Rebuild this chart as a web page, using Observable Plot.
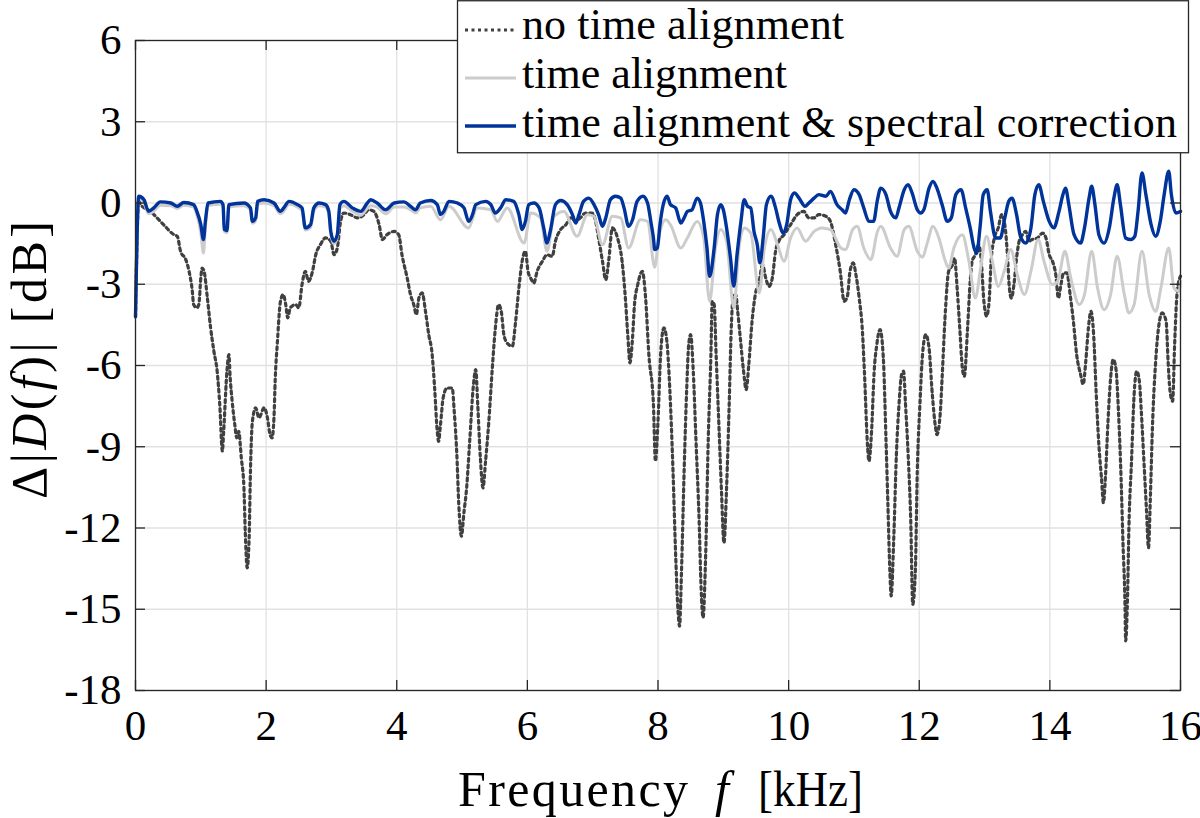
<!DOCTYPE html>
<html>
<head>
<meta charset="utf-8">
<script src="https://cdn.jsdelivr.net/npm/d3@7"></script>
<script src="https://cdn.jsdelivr.net/npm/@observablehq/plot@0.6"></script>
<style>
  html, body { margin: 0; padding: 0; background: #fff; }
  #chart { position: relative; width: 1200px; height: 818px; }
</style>
</head>
<body>
<div id="chart"></div>
<script>
// ---- data: [frequency in kHz, level difference in dB] ----
const noTimeAlignment = [
  [0,-4.2],[0.05,0.1],[0.08,-0.06],[0.23,-0.31],[0.33,-0.55],[0.43,-0.8],[0.59,-1.17],[0.64,-1.23],[0.69,-1.78],
  [0.77,-2.09],[0.82,-2.52],[0.87,-3.26],[0.89,-3.75],[0.94,-3.87],[0.97,-3.75],[1.0,-2.77],[1.02,-2.4],[1.05,-2.52],
  [1.1,-3.5],[1.15,-4.61],[1.2,-5.47],[1.25,-6.21],[1.29,-7.44],[1.33,-9.16],[1.35,-8.43],[1.4,-6.21],[1.43,-5.6],
  [1.45,-6.46],[1.48,-7.32],[1.52,-8.18],[1.55,-8.67],[1.58,-8.43],[1.62,-9.41],[1.66,-10.5],[1.68,-12.1],[1.71,-13.47],
  [1.74,-12.36],[1.76,-9.9],[1.79,-8.06],[1.84,-7.56],[1.89,-7.93],[1.97,-7.56],[2.02,-7.93],[2.06,-8.55],[2.09,-8.67],
  [2.12,-7.93],[2.14,-6.46],[2.17,-5.23],[2.22,-3.63],[2.26,-3.38],[2.3,-3.75],[2.33,-4.24],[2.37,-3.87],[2.45,-3.75],
  [2.5,-3.87],[2.55,-3.01],[2.6,-2.52],[2.65,-2.89],[2.71,-2.52],[2.76,-1.91],[2.83,-1.54],[2.91,-1.29],[2.99,-1.41],
  [3.04,-1.91],[3.09,-1.66],[3.14,-0.68],[3.19,-0.37],[3.29,-0.43],[3.4,-0.55],[3.5,-0.43],[3.57,-0.25],[3.65,-0.31],
  [3.73,-0.8],[3.78,-1.35],[3.85,-1.17],[3.96,-1.05],[4.03,-1.17],[4.08,-1.91],[4.16,-2.77],[4.21,-3.38],[4.26,-3.75],
  [4.3,-4.12],[4.34,-3.5],[4.39,-3.32],[4.44,-4.0],[4.49,-4.86],[4.54,-5.54],[4.58,-6.83],[4.62,-8.43],[4.64,-8.8],
  [4.67,-8.18],[4.71,-7.2],[4.77,-6.83],[4.85,-6.83],[4.88,-7.69],[4.92,-9.29],[4.95,-11.13],[4.99,-12.3],[5.03,-11.4],
  [5.07,-10.52],[5.12,-8.67],[5.17,-6.83],[5.21,-6.15],[5.24,-7.44],[5.28,-9.41],[5.32,-10.52],[5.36,-9.53],[5.41,-8.06],
  [5.46,-6.21],[5.51,-4.61],[5.56,-3.75],[5.6,-4.0],[5.64,-4.86],[5.69,-5.17],[5.77,-5.29],[5.82,-4.37],[5.87,-3.14],
  [5.92,-2.15],[5.97,-1.78],[6.01,-2.52],[6.05,-2.77],[6.1,-2.95],[6.15,-2.52],[6.23,-2.15],[6.3,-1.91],[6.38,-1.97],
  [6.43,-1.41],[6.51,-0.98],[6.59,-0.8],[6.66,-0.55],[6.74,-0.68],[6.81,-0.55],[6.89,-0.37],[6.99,-0.37],[7.04,-0.62],
  [7.09,-1.29],[7.15,-2.15],[7.2,-2.83],[7.25,-2.03],[7.3,-0.92],[7.38,-1.29],[7.45,-2.15],[7.5,-3.5],[7.54,-4.98],
  [7.57,-5.9],[7.61,-4.98],[7.64,-3.75],[7.69,-3.01],[7.76,-2.52],[7.81,-3.5],[7.86,-5.6],[7.93,-7.44],[7.96,-9.53],
  [8.0,-8.06],[8.04,-5.6],[8.09,-4.61],[8.13,-4.98],[8.18,-6.83],[8.23,-9.9],[8.27,-12.98],[8.31,-15.19],[8.33,-15.62],
  [8.36,-13.59],[8.4,-9.9],[8.44,-6.83],[8.47,-5.23],[8.5,-4.86],[8.54,-6.21],[8.58,-8.67],[8.63,-11.75],[8.66,-14.21],
  [8.69,-15.31],[8.73,-12.98],[8.77,-8.67],[8.81,-5.6],[8.83,-3.63],[8.86,-3.75],[8.89,-5.6],[8.93,-8.06],[8.97,-10.52],
  [9.01,-12.55],[9.05,-10.52],[9.09,-7.44],[9.12,-4.74],[9.15,-3.5],[9.19,-3.38],[9.22,-4.0],[9.26,-4.98],[9.31,-6.21],
  [9.35,-6.89],[9.39,-5.97],[9.44,-4.37],[9.49,-3.38],[9.55,-2.89],[9.6,-2.28],[9.65,-2.77],[9.7,-3.08],[9.75,-2.77],
  [9.8,-1.78],[9.85,-1.41],[9.93,-1.17],[10.03,-0.8],[10.13,-0.43],[10.23,-0.31],[10.31,-0.55],[10.39,-0.55],[10.46,-0.43],
  [10.57,-0.49],[10.64,-0.68],[10.72,-1.54],[10.79,-2.52],[10.85,-3.63],[10.9,-3.44],[10.94,-2.52],[10.99,-2.21],[11.03,-2.64],
  [11.08,-3.5],[11.13,-4.74],[11.16,-6.21],[11.21,-9.04],[11.23,-9.53],[11.27,-8.43],[11.31,-6.21],[11.35,-5.23],[11.4,-4.67],
  [11.45,-5.72],[11.49,-8.67],[11.52,-11.13],[11.55,-13.59],[11.57,-14.51],[11.61,-12.36],[11.65,-9.29],[11.69,-7.44],[11.73,-6.33],
  [11.76,-6.21],[11.79,-7.44],[11.83,-9.29],[11.87,-11.75],[11.9,-14.82],[11.94,-13.59],[11.97,-9.9],[12.01,-7.44],[12.05,-5.6],
  [12.1,-4.86],[12.15,-5.35],[12.2,-7.07],[12.25,-8.3],[12.27,-8.55],[12.32,-7.81],[12.35,-6.46],[12.4,-4.0],[12.45,-2.52],
  [12.51,-2.28],[12.54,-2.03],[12.58,-3.14],[12.62,-4.61],[12.66,-6.09],[12.69,-6.4],[12.74,-4.61],[12.78,-2.89],[12.81,-2.15],
  [12.86,-1.91],[12.91,-1.54],[12.95,-2.15],[12.99,-3.63],[13.03,-4.18],[13.07,-3.63],[13.1,-2.15],[13.15,-1.29],[13.21,-0.92],
  [13.26,-0.43],[13.31,-0.8],[13.35,-1.91],[13.38,-3.14],[13.41,-3.51],[13.45,-3.01],[13.49,-2.03],[13.53,-1.41],[13.58,-1.17],
  [13.63,-1.05],[13.68,-1.41],[13.73,-1.35],[13.81,-1.29],[13.89,-1.11],[13.94,-1.29],[13.99,-1.91],[14.04,-2.15],[14.09,-2.64],
  [14.13,-3.51],[14.17,-3.01],[14.21,-2.58],[14.26,-2.58],[14.31,-3.38],[14.36,-4.37],[14.41,-5.6],[14.47,-6.33],[14.51,-6.7],
  [14.55,-5.84],[14.59,-4.61],[14.63,-4.0],[14.67,-4.86],[14.71,-7.07],[14.75,-8.92],[14.79,-10.15],[14.82,-11.07],[14.85,-10.15],
  [14.89,-8.06],[14.93,-6.46],[14.97,-5.78],[15.01,-6.09],[15.05,-7.69],[15.09,-10.15],[15.12,-12.6],[15.15,-14.82],[15.16,-16.17],
  [15.19,-14.45],[15.21,-11.99],[15.25,-9.53],[15.29,-7.07],[15.33,-6.21],[15.37,-6.58],[15.4,-7.69],[15.44,-9.53],[15.48,-11.38],
  [15.51,-12.73],[15.54,-10.76],[15.57,-8.3],[15.62,-5.84],[15.67,-4.49],[15.72,-4.06],[15.78,-4.37],[15.81,-5.84],[15.84,-6.95],
  [15.88,-7.32],[15.91,-5.23],[15.95,-3.26],[16.0,-2.7]
];

const timeAlignment = [
  [0,-4.2],[0.05,0.15],[0.13,0.0],[0.2,-0.4],[0.28,-0.3],[0.38,-0.08],[0.54,-0.1],[0.64,-0.2],[0.74,-0.08],[0.89,-0.15],
  [0.94,-0.45],[1.0,-1.1],[1.04,-1.85],[1.07,-0.9],[1.11,-0.1],[1.3,-0.05],[1.34,-0.15],[1.36,-1.05],[1.4,-1.1],[1.43,-0.15],
  [1.66,-0.1],[1.76,-0.25],[1.79,-0.75],[1.84,-0.65],[1.87,-0.05],[1.97,0.0],[2.12,-0.1],[2.22,-0.4],[2.27,-0.3],[2.35,-0.05],
  [2.48,-0.15],[2.55,-0.3],[2.6,-1.0],[2.68,-0.9],[2.73,-0.3],[2.81,-0.1],[2.91,-0.15],[2.96,-0.45],[2.99,-1.15],[3.04,-1.5],
  [3.09,-1.25],[3.13,-0.2],[3.19,-0.1],[3.32,-0.3],[3.45,-0.45],[3.55,-0.2],[3.6,-0.1],[3.7,-0.15],[3.83,-0.4],[3.96,-0.15],
  [4.11,-0.15],[4.21,-0.25],[4.29,-0.37],[4.36,-0.18],[4.52,-0.12],[4.67,-0.62],[4.8,-0.12],[5.1,-0.92],[5.23,-0.18],[5.44,-0.25],
  [5.54,-0.68],[5.69,-0.18],[5.95,-1.48],[6.05,-0.37],[6.2,-0.55],[6.3,-1.78],[6.41,-0.49],[6.56,-0.31],[6.76,-1.23],[6.92,-0.43],
  [7.02,-0.49],[7.15,-1.54],[7.3,-0.49],[7.43,-0.55],[7.55,-1.66],[7.73,-0.62],[7.84,-0.68],[7.95,-2.37],[8.01,-1.29],[8.12,-0.62],
  [8.19,-0.8],[8.35,-1.66],[8.45,-1.29],[8.6,-0.68],[8.7,-1.29],[8.79,-3.63],[8.88,-1.66],[8.96,-0.98],[9.05,-1.41],[9.16,-3.87],
  [9.24,-1.66],[9.32,-0.92],[9.42,-1.11],[9.55,-3.32],[9.63,-1.66],[9.73,-0.98],[9.83,-1.54],[9.93,-2.15],[10.03,-1.29],[10.13,-0.92],
  [10.26,-1.41],[10.39,-1.05],[10.51,-0.92],[10.64,-0.98],[10.8,-1.66],[10.87,-1.72],[10.98,-0.98],[11.05,-0.86],[11.15,-1.66],[11.26,-2.09],
  [11.36,-1.05],[11.41,-0.86],[11.56,-1.66],[11.66,-1.97],[11.77,-0.98],[11.84,-0.86],[11.97,-1.78],[12.05,-2.0],[12.12,-1.5],[12.21,-0.86],
  [12.3,-1.29],[12.4,-2.15],[12.45,-2.4],[12.53,-1.66],[12.66,-1.17],[12.76,-2.15],[12.86,-3.51],[12.94,-2.4],[13.03,-1.23],[13.12,-2.15],
  [13.21,-3.08],[13.3,-2.52],[13.4,-1.72],[13.5,-2.64],[13.61,-3.38],[13.71,-2.52],[13.82,-1.35],[13.91,-2.15],[14.04,-3.01],[14.12,-2.89],
  [14.23,-1.78],[14.32,-2.77],[14.45,-3.75],[14.53,-3.38],[14.64,-1.78],[14.73,-3.14],[14.83,-3.94],[14.93,-3.38],[15.03,-1.97],[15.14,-3.38],
  [15.21,-4.06],[15.29,-3.75],[15.41,-1.78],[15.52,-3.38],[15.62,-4.0],[15.7,-3.14],[15.82,-1.66],[15.9,-3.14],[15.98,-3.26],[16.0,-2.89]
];

const spectralCorrection = [
  [0,-4.2],[0.05,0.25],[0.13,0.12],[0.2,-0.31],[0.28,-0.18],[0.38,0.04],[0.54,0],[0.64,-0.12],[0.74,0.02],[0.89,-0.06],
  [0.94,-0.31],[1.0,-0.8],[1.04,-1.35],[1.07,-0.68],[1.11,0],[1.3,0.06],[1.34,-0.06],[1.36,-0.98],[1.4,-1.02],[1.43,-0.06],
  [1.66,0],[1.76,-0.18],[1.79,-0.68],[1.84,-0.55],[1.87,0.06],[1.97,0.12],[2.12,0],[2.22,-0.31],[2.27,-0.18],[2.35,0.06],
  [2.48,-0.06],[2.55,-0.18],[2.6,-0.92],[2.68,-0.8],[2.73,-0.18],[2.81,0],[2.91,-0.06],[2.96,-0.31],[2.99,-1.05],[3.04,-1.41],
  [3.09,-1.17],[3.13,-0.06],[3.19,0.06],[3.32,-0.18],[3.45,-0.31],[3.55,0],[3.6,0.12],[3.7,0],[3.83,-0.25],[3.96,0],
  [4.11,0.04],[4.21,-0.12],[4.29,-0.25],[4.36,0],[4.52,0.09],[4.62,-0.06],[4.67,-0.43],[4.72,-0.31],[4.8,0.06],[4.93,0],
  [5.03,-0.18],[5.1,-0.68],[5.16,-0.43],[5.21,-0.06],[5.36,0.06],[5.44,-0.06],[5.51,-0.37],[5.59,-0.18],[5.67,0.12],[5.79,0.06],
  [5.87,-0.43],[5.92,-0.98],[5.97,-0.68],[6.02,-0.06],[6.1,0],[6.18,-0.18],[6.25,-0.92],[6.3,-1.48],[6.35,-1.05],[6.43,-0.06],
  [6.51,0.09],[6.61,-0.06],[6.69,-0.43],[6.74,-0.74],[6.79,-0.43],[6.86,0.06],[6.94,0.18],[7.02,-0.06],[7.09,-0.43],[7.15,-0.86],
  [7.2,-0.55],[7.27,0.12],[7.35,0.25],[7.43,0.18],[7.48,-0.18],[7.55,-0.86],[7.61,-0.62],[7.68,0.06],[7.77,0.25],[7.84,0],
  [7.89,-0.68],[7.93,-1.29],[7.95,-1.72],[7.99,-1.66],[8.03,-0.8],[8.08,-0.06],[8.14,0.25],[8.19,-0.06],[8.27,-0.18],[8.35,-0.74],
  [8.4,-0.55],[8.45,-0.31],[8.52,-0.25],[8.6,0.18],[8.65,0],[8.7,-0.68],[8.75,-1.66],[8.79,-2.71],[8.86,-1.66],[8.91,-0.43],
  [8.96,-0.06],[9.0,-0.25],[9.05,-0.92],[9.11,-2.03],[9.16,-3.07],[9.21,-1.91],[9.27,-0.68],[9.32,0.12],[9.37,-0.12],[9.42,-0.18],
  [9.47,-1.05],[9.52,-1.54],[9.56,-2.21],[9.61,-1.29],[9.66,-0.06],[9.73,0.25],[9.8,-0.18],[9.85,-0.68],[9.92,-1.11],[9.97,-0.8],
  [10.03,0.12],[10.09,0.37],[10.16,0.18],[10.25,-0.12],[10.31,0],[10.39,0.18],[10.46,0.31],[10.57,0.25],[10.64,0.43],[10.74,-0.06],
  [10.82,-0.25],[10.87,-0.37],[10.93,0.12],[11.0,0.49],[11.08,0.31],[11.15,-0.18],[11.23,-0.68],[11.3,-0.68],[11.36,0.12],[11.41,0.55],
  [11.49,0.31],[11.56,-0.31],[11.64,-0.55],[11.69,-0.18],[11.77,0.49],[11.83,0.68],[11.89,0.37],[11.97,-0.25],[12.02,-0.37],[12.07,-0.25],
  [12.15,0.55],[12.21,0.8],[12.27,0.55],[12.35,-0.06],[12.43,-0.68],[12.49,-0.55],[12.56,0.31],[12.64,0.49],[12.71,-0.18],[12.78,-0.92],
  [12.84,-1.66],[12.88,-1.85],[12.93,-0.92],[12.98,0.31],[13.04,0.49],[13.09,-0.31],[13.17,-1.29],[13.24,-1.29],[13.31,-0.55],[13.37,0.06],
  [13.42,0.18],[13.49,-0.43],[13.55,-1.23],[13.63,-1.48],[13.71,-0.92],[13.77,0.31],[13.83,0.68],[13.9,0.06],[13.99,-0.68],[14.06,-0.92],
  [14.14,-0.31],[14.2,0.31],[14.24,0.55],[14.29,-0.06],[14.37,-1.17],[14.47,-1.48],[14.53,-0.92],[14.6,0.18],[14.64,0.62],[14.69,-0.06],
  [14.75,-1.17],[14.83,-1.48],[14.91,-0.92],[14.98,0.18],[15.03,0.68],[15.08,-0.06],[15.16,-1.29],[15.24,-1.35],[15.3,-1.23],[15.35,-0.31],
  [15.41,1.11],[15.47,0.31],[15.55,-0.8],[15.62,-1.23],[15.69,-0.68],[15.75,0.31],[15.82,1.17],[15.86,0.31],[15.93,-0.37],[16.0,-0.31]
];

const xTicks = [0, 2, 4, 6, 8, 10, 12, 14, 16];
const yTicks = [-18, -15, -12, -9, -6, -3, 0, 3, 6];
const seriesNames = ["no time alignment", "time alignment", "time alignment & spectral correction"];

// ---- layout / style ----
const W = 1200, H = 818;
const mL = 135, mR = 20, mT = 40, mB = 128;
const innerW = W - mL - mR, innerH = H - mT - mB;
const tickLen = 10;
const FONT = "'Liberation Serif', 'Times New Roman', serif";
const darkGray = "#404040", lightGray = "#cccccc", blue = "#00349a";
const dots = "3,3.5";

const toRows = (arr) => arr.map(([f, db]) => ({f, db}));

const svg = Plot.plot({
  width: W, height: H,
  marginLeft: mL, marginRight: mR, marginTop: mT, marginBottom: mB,
  x: {domain: [0, 16]},
  y: {domain: [-18, 6]},
  style: {fontFamily: FONT, fontSize: "44px", color: "#000", background: "#fff", overflow: "visible"},
  marks: [
    Plot.gridX(xTicks, {stroke: "#e1e1e1", strokeOpacity: 1, strokeWidth: 1.3}),
    Plot.gridY(yTicks, {stroke: "#e1e1e1", strokeOpacity: 1, strokeWidth: 1.3}),
    Plot.line(toRows(noTimeAlignment), {x: "f", y: "db", stroke: darkGray, strokeWidth: 3.2, strokeDasharray: dots, curve: "monotone-x"}),
    Plot.line(toRows(timeAlignment), {x: "f", y: "db", stroke: lightGray, strokeWidth: 3, curve: "monotone-x"}),
    Plot.line(toRows(spectralCorrection), {x: "f", y: "db", stroke: blue, strokeWidth: 3.4, curve: "monotone-x"}),
    // inward ticks on all four sides (MATLAB box style)
    Plot.ruleX(xTicks, {x: d => d, insetTop: innerH - tickLen, stroke: "#262626", strokeWidth: 1.3}),
    Plot.ruleX(xTicks, {x: d => d, insetBottom: innerH - tickLen, stroke: "#262626", strokeWidth: 1.3}),
    Plot.ruleY(yTicks, {y: d => d, insetRight: innerW - tickLen, stroke: "#262626", strokeWidth: 1.3}),
    Plot.ruleY(yTicks, {y: d => d, insetLeft: innerW - tickLen, stroke: "#262626", strokeWidth: 1.3}),
    Plot.frame({stroke: "#262626", strokeWidth: 1.3}),
    Plot.axisX({ticks: xTicks, tickSize: 0, tickPadding: 19, tickFormat: d => String(d), label: null, fontSize: 43, fill: "#000"}),
    Plot.axisY({ticks: yTicks, tickSize: 0, tickPadding: 14, tickFormat: d => String(d), label: null, fontSize: 43, fill: "#000"})
  ]
});

const s = d3.select(svg);

// x label: "Frequency f [kHz]"
const xlAttrs = (t) => t.attr("font-family", FONT).attr("font-size", 50).attr("fill", "#000").attr("text-anchor", "start");
xlAttrs(s.append("text")).attr("x", 458).attr("y", 806).attr("textLength", 230).attr("lengthAdjust", "spacing").text("Frequency");
xlAttrs(s.append("text")).attr("x", 715).attr("y", 806).attr("font-style", "italic").text("f");
xlAttrs(s.append("text")).attr("x", 758).attr("y", 806).attr("textLength", 105).attr("lengthAdjust", "spacingAndGlyphs").text("[kHz]");

// y label: "Δ|D(f)| [dB]"
const yl = s.append("text")
  .attr("transform", "translate(46,360) rotate(-90)")
  .attr("text-anchor", "middle")
  .attr("font-family", FONT).attr("font-size", 50).attr("fill", "#000")
  .attr("textLength", 278).attr("lengthAdjust", "spacing");
yl.append("tspan").text("Δ|");
yl.append("tspan").attr("font-style", "italic").text("D");
yl.append("tspan").text("(");
yl.append("tspan").attr("font-style", "italic").text("f");
yl.append("tspan").text(")| [dB]");

// legend box (top right, overlapping the axes like MATLAB's 'northeast' legend)
const lg = s.append("g");
lg.append("rect").attr("x", 457.5).attr("y", 0.75).attr("width", 731).attr("height", 152)
  .attr("fill", "#fff").attr("stroke", "#262626").attr("stroke-width", 1.3);
const legendStyles = [
  {stroke: darkGray, width: 3.2, dash: dots, lineY: 30, textY: 39, len: 322},
  {stroke: lightGray, width: 3, dash: null, lineY: 78, textY: 88, len: 265},
  {stroke: blue, width: 3.4, dash: null, lineY: 126, textY: 137, len: 655}
];
seriesNames.forEach((name, i) => {
  const st = legendStyles[i];
  const ln = lg.append("line").attr("x1", 465).attr("x2", 516).attr("y1", st.lineY).attr("y2", st.lineY)
    .attr("stroke", st.stroke).attr("stroke-width", st.width);
  if (st.dash) ln.attr("stroke-dasharray", st.dash);
  lg.append("text").attr("x", 522).attr("y", st.textY)
    .attr("text-anchor", "start")
    .attr("font-family", FONT).attr("font-size", 44).attr("fill", "#000")
    .attr("textLength", st.len).attr("lengthAdjust", "spacing")
    .text(name);
});

document.getElementById("chart").appendChild(svg);
</script>
</body>
</html>
